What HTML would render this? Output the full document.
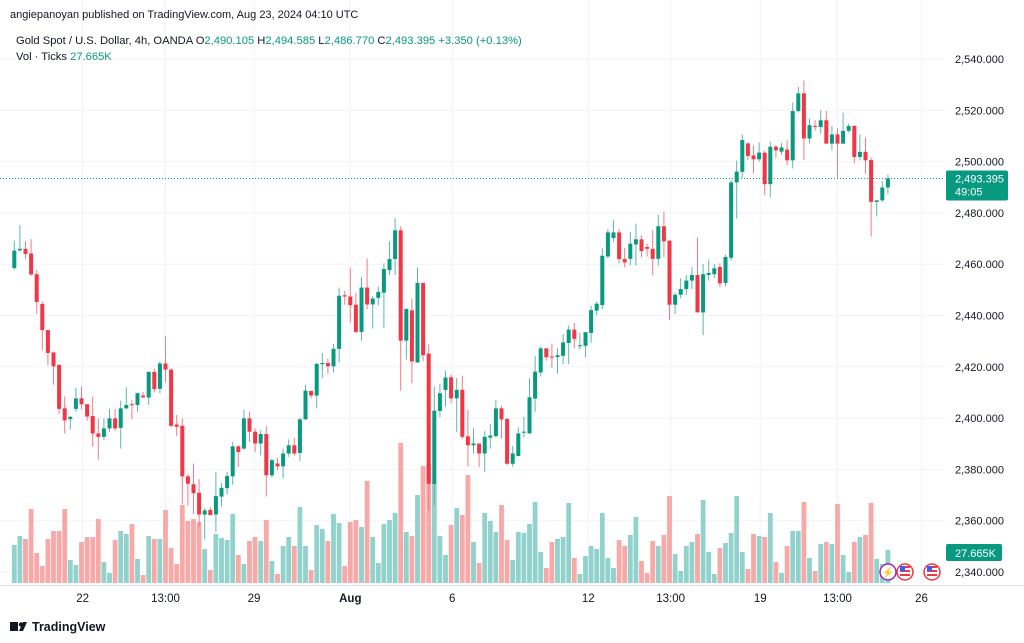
<!DOCTYPE html>
<html><head><meta charset="utf-8">
<style>
html,body{margin:0;padding:0;background:#fff;}
svg{display:block;font-family:"Liberation Sans",Arial,sans-serif;}
</style></head>
<body>
<svg id="chart" width="1024" height="643" viewBox="0 0 1024 643" xmlns="http://www.w3.org/2000/svg">
  <rect x="0" y="0" width="1024" height="643" fill="#ffffff"/>
  <g id="grid"></g>
  <g id="volumes"></g>
  <g id="candles"></g>
  <g id="yaxis"></g>
  <g id="xaxis"></g>
  <line x1="0" y1="585.5" x2="1024" y2="585.5" stroke="#e0e3eb" stroke-width="1"/>
  <text x="10" y="18" font-size="11" fill="#131722">angiepanoyan published on TradingView.com, Aug 23, 2024 04:10 UTC</text>
  <text x="16" y="44" font-size="11.2" fill="#131722">Gold Spot / U.S. Dollar, 4h, OANDA  <tspan fill="#131722">O</tspan><tspan fill="#089981">2,490.105</tspan>  <tspan fill="#131722">H</tspan><tspan fill="#089981">2,494.585</tspan>  <tspan fill="#131722">L</tspan><tspan fill="#089981">2,486.770</tspan>  <tspan fill="#131722">C</tspan><tspan fill="#089981">2,493.395  +3.350 (+0.13%)</tspan></text>
  <text x="16" y="60" font-size="11.2" fill="#131722">Vol · Ticks  <tspan fill="#089981">27.665K</tspan></text>
  <g>
    <rect x="10" y="622" width="8" height="9" fill="#131722"/>
    <circle cx="21" cy="624.5" r="2.2" fill="#131722"/>
    <polygon points="19,631 23,622 27,622 23,631" fill="#131722"/>
    <text x="32" y="631" font-size="12.5" font-weight="bold" fill="#131722">TradingView</text>
  </g>
</svg>
<script>
const opens=[2458.5,2465.4,2466,2464.2,2456.1,2444.5,2434.3,2425.6,2420.7,2403.8,2399.6,2403.6,2407.7,2405.4,2400.8,2394,2392.7,2396,2399.9,2396.2,2403.8,2405.4,2405.1,2408.8,2408,2418,2411.4,2421.3,2418.9,2397.5,2397,2377.3,2374.2,2370.9,2362.4,2364.2,2362.4,2369.4,2372.7,2377.3,2389,2388.1,2399.9,2394.7,2390.1,2393.8,2377.7,2382.3,2381.2,2386.2,2389.4,2386.4,2399.5,2410.6,2408.8,2421,2421.5,2420.2,2427,2447.9,2447.4,2444.2,2433.6,2450.9,2444.3,2446.9,2448.9,2457.7,2462,2473.2,2430.2,2442,2421.7,2452.7,2425.1,2374.4,2402.8,2411,2415.9,2407.7,2411,2392.9,2389.4,2390.1,2386.2,2392.4,2393,2403.8,2399.7,2382.2,2385.2,2394.3,2394,2407.6,2417.8,2427.2,2424,2423.8,2424.3,2429.3,2434.5,2428,2428.2,2433.2,2441.9,2444.1,2463,2470.2,2472.4,2462,2462.1,2467.7,2469.7,2466.7,2466,2462.1,2474.8,2469.2,2444.2,2448.1,2450.3,2453.6,2455.8,2441.2,2455.8,2456.1,2458.9,2452.7,2462.5,2491.9,2496,2507.1,2502.4,2500.9,2503.5,2491.2,2505.8,2503.9,2504.7,2500.5,2519.7,2526.6,2509,2513.9,2513.5,2516.1,2507,2510.6,2507,2512,2513.9,2501.8,2503.8,2500.6,2484.3,2484.9,2489.9];
const closes=[2465.3,2466,2464,2456,2445.3,2434.3,2425.4,2420.2,2403.6,2399.1,2400.5,2407.7,2405.4,2400.6,2394,2392.7,2396,2399.9,2396,2403.8,2405.1,2405,2409.7,2408.1,2418,2411.3,2421.3,2418.9,2397,2396.6,2377.3,2374.4,2370.7,2362.4,2364,2362.2,2369.6,2372.8,2377.4,2389,2386.8,2399.9,2394.7,2390.1,2393.8,2377.7,2383.6,2381.2,2386.2,2389.4,2386.2,2399.5,2410.7,2408.8,2421.1,2421.5,2420.2,2427,2447.7,2447.4,2444,2433.6,2450.9,2444.3,2446.6,2449.2,2458.1,2462,2473.2,2430.2,2442.6,2422.1,2452.7,2424.5,2374.4,2402.9,2409.7,2415.8,2407.7,2411,2392.7,2389.4,2390.1,2386.2,2392.7,2393.2,2403.8,2399.5,2382.2,2386.2,2394,2394.7,2408.1,2418.1,2427.2,2423.7,2423.7,2424.5,2429.5,2434.5,2430.9,2428.4,2433.5,2442.1,2444.6,2463.3,2472.4,2472.4,2462,2460.7,2468,2469.7,2465.1,2466,2462.1,2474.8,2468.9,2444.2,2448.1,2450.3,2453.6,2455.8,2441.2,2456.1,2456.6,2458.4,2452.5,2462.8,2491.9,2496.1,2508.4,2502.2,2500.9,2503.5,2491.2,2505.8,2504.4,2505.5,2500.5,2519.7,2526.6,2509,2514.2,2513.5,2516.1,2507,2510.6,2507,2512,2513.9,2501.8,2503.8,2500.5,2484.3,2484.9,2489.9,2493.4];
const highs=[2469.2,2475.3,2469,2469.8,2457.7,2445.5,2434.3,2426,2421.1,2408.4,2400.8,2411.9,2412.2,2405.4,2408.4,2399.9,2399.9,2403.6,2403.6,2406.8,2412,2407,2410,2410.2,2418.3,2419.3,2422.1,2431.9,2419.5,2401.2,2399.9,2378.3,2382.3,2376.2,2364.9,2365.3,2379.1,2374.7,2379,2390.7,2389.4,2403.2,2402.5,2396,2395.3,2396.9,2384.2,2384.6,2388.1,2391.7,2392.3,2400.2,2413,2410.6,2421.5,2425.4,2423.2,2428.9,2450.9,2449.6,2458.6,2448.9,2455,2462.3,2447.6,2451.3,2460.3,2468.8,2477.9,2474.8,2442.6,2446.6,2458.7,2452.7,2428.7,2412.3,2413.4,2418.5,2416.9,2415.6,2416.5,2403.2,2396,2390.1,2394.9,2397.7,2407.1,2404.7,2399.7,2389.1,2396.4,2400.5,2415.6,2424.3,2428,2427.2,2429,2427.2,2432.8,2436.1,2437.1,2433.2,2433.5,2443.9,2445.4,2466.2,2473.7,2477.1,2473.7,2466.4,2472.5,2475.8,2471.2,2468,2473.2,2479.3,2480.4,2469.2,2448.8,2454.5,2455.8,2458.8,2470.3,2460.1,2461.8,2460.1,2460.4,2463.7,2492.8,2500.4,2510.5,2507.5,2506.3,2507.5,2504.2,2507.8,2506.5,2507.2,2508.3,2523,2529.1,2531.7,2516.8,2516.1,2520,2519.7,2513.9,2513,2519.1,2514.8,2514.2,2510.6,2509.4,2501.6,2484.9,2492.4,2495];
const lows=[2457.8,2464.9,2461.9,2455.5,2440.7,2426.4,2420.6,2413,2401.6,2394,2395.6,2402.5,2403.4,2399,2388.8,2383.8,2391.4,2394.7,2395,2388.1,2403.4,2399.5,2402.5,2407.7,2405.1,2410,2409.7,2413.9,2396.6,2393,2366.6,2365.9,2362.6,2357.4,2352.8,2362,2355.5,2365.5,2370.2,2374,2380.9,2387.7,2390.7,2386.8,2385.5,2369.4,2376.8,2379.6,2376.4,2384.9,2385.3,2383.3,2399.5,2407.7,2403.8,2415.6,2417.3,2417.8,2421.7,2444.2,2437.2,2433.2,2430.2,2442.4,2434.9,2444,2435.2,2455.8,2455.8,2410.6,2422.8,2413.6,2421.5,2422.2,2364,2366,2400.3,2404.5,2405.8,2394.7,2391.9,2381.2,2386.2,2380.9,2379,2388.1,2392.4,2392,2381.6,2381,2385.2,2392.4,2394,2402.5,2416.2,2422.4,2419.5,2417.3,2421,2421,2427.1,2426.7,2423.8,2429.3,2440,2442.4,2462.2,2468.8,2460.3,2458.7,2459.5,2459.5,2462.7,2463,2455.6,2459.5,2462.7,2438.3,2440.5,2446.7,2448,2450.3,2441.2,2432.3,2453.6,2454.5,2451,2451.4,2461.4,2477.8,2493.7,2500.7,2495.4,2500,2486.9,2486,2501.3,2502.6,2498.7,2497.3,2519.1,2500.6,2507,2512,2510.9,2507,2504.4,2493.5,2507,2511.3,2499.3,2500.5,2495.3,2470.8,2478.6,2484.3,2487.3];
const volumes=[38,47,44,74,30,17,44,52,52,74,23,18,41,46,46,64,21,10,43,52,49,59,24,8,47,44,44,73,35,19,78,62,64,61,34,13,49,45,43,69,28,19,42,46,42,63,22,9,37,46,37,76,37,13,58,54,42,69,60,17,61,63,56,102,46,20,59,63,70,140,51,47,88,117,119,101,47,28,58,75,68,108,41,20,70,62,51,78,43,23,51,50,59,81,31,15,41,44,46,80,25,9,27,37,34,70,25,15,43,37,48,66,22,10,42,37,48,87,29,12,37,41,49,83,31,9,35,40,50,87,31,14,49,47,46,70,21,10,37,52,52,81,25,12,39,41,39,79,28,11,41,46,48,80,24,19,33];
const priceTicks=[2340,2360,2380,2400,2420,2440,2460,2480,2500,2520,2540];
const timeLabels=["22","13:00","29","Aug","6","12","13:00","19","13:00","26"];
const timeLabelIdx=[12.2,27,42.8,60,78.2,102.5,117.2,133.2,147,162];
const lastPrice=2493.395;

const NS="http://www.w3.org/2000/svg";
function yP(p){return 59+(2540-p)*2.565;}
function xI(i){return 14.3+i*5.6;}
function yV(v){return 583-v;}
function mk(tag,attrs,parent){const e=document.createElementNS(NS,tag);for(const k in attrs)e.setAttribute(k,attrs[k]);parent.appendChild(e);return e;}
const grid=document.getElementById('grid'),vg=document.getElementById('volumes'),cg=document.getElementById('candles'),ya=document.getElementById('yaxis'),xa=document.getElementById('xaxis'),svg=document.getElementById('chart');

priceTicks.forEach(p=>{
  const l=mk('line',{x1:0,x2:945,y1:yP(p),y2:yP(p),stroke:'#f0f3fa','stroke-width':1},grid);
  
  
  const t=mk('text',{x:955,y:yP(p)+4,'font-size':11,fill:'#131722'},ya);
  
  
  t.textContent=p.toLocaleString('en-US',{minimumFractionDigits:3});
});
timeLabels.forEach((s,k)=>{
  const x=xI(timeLabelIdx[k]);
  const l=mk('line',{x1:x,x2:x,y1:0,y2:585,stroke:'#f0f3fa','stroke-width':1},grid);
  
  
  const t=mk('text',{x:x,y:602,'font-size':11.5,fill:'#131722','text-anchor':'middle','font-weight':s==='Aug'?'bold':'normal'},xa);
  
  
  t.textContent=s;
});
for(let i=0;i<opens.length;i++){
  const up=closes[i]>=opens[i];
  const x=xI(i);
  const vb=mk('rect',{x:x-2.4,y:yV(volumes[i]),width:4.8,height:volumes[i],fill:up?'#92d2cc':'#f7a9a7'},vg);
  
  
  const col=up?'#089981':'#f23645';
  const g=mk('g',{},cg);
  
  
  mk('line',{x1:x,x2:x,y1:yP(highs[i]),y2:yP(lows[i]),stroke:up?'#5cb8a8':'#f47b86','stroke-width':1},g);
  const top=yP(Math.max(opens[i],closes[i])),bot=yP(Math.min(opens[i],closes[i]));
  mk('rect',{x:x-2,y:top,width:4,height:Math.max(1,bot-top),fill:col},g);
}
const ly=yP(lastPrice);
const pl=mk('line',{x1:0,x2:945,y1:ly,y2:ly,stroke:'#089981','stroke-width':1,'stroke-dasharray':'1 2'},svg);


const pg=mk('g',{},svg);


mk('rect',{x:946,y:ly-8,width:62,height:30,fill:'#089981',rx:2},pg);
const t1=mk('text',{x:955,y:ly+4,'font-size':11,fill:'#fff'},pg);t1.textContent='2,493.395';
const t2=mk('text',{x:955,y:ly+17,'font-size':11,fill:'#fff'},pg);t2.textContent='49:05';
const vgl=mk('g',{},svg);


mk('rect',{x:946,y:544,width:56,height:17,fill:'#089981',rx:2},vgl);
const t3=mk('text',{x:955,y:557,'font-size':11,fill:'#fff'},vgl);t3.textContent='27.665K';
const ic=mk('g',{},svg);


mk('circle',{cx:888,cy:572,r:8,fill:'#fff',stroke:'#9c27b0','stroke-width':1.5},ic);
const lt=mk('text',{x:888,y:576,'font-size':10,fill:'#9c27b0','text-anchor':'middle'},ic);lt.textContent='⚡';
[905,932].forEach(cx=>{
  mk('circle',{cx:cx,cy:572,r:8,fill:'#fff',stroke:'#f23645','stroke-width':1.5},ic);
  mk('rect',{x:cx-5,y:566,width:10,height:2,fill:'#f23645'},ic);
  mk('rect',{x:cx-5,y:570,width:10,height:2,fill:'#f23645'},ic);
  mk('rect',{x:cx-5,y:574,width:10,height:2,fill:'#f23645'},ic);
  mk('rect',{x:cx-5,y:566,width:5,height:5,fill:'#2962ff'},ic);
});
</script>
</body></html>
